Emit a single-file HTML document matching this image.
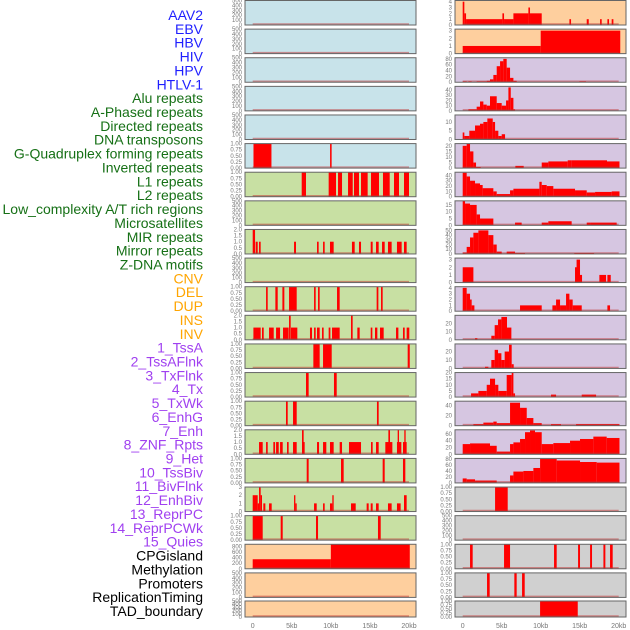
<!DOCTYPE html>
<html><head><meta charset="utf-8"><style>
html,body{margin:0;padding:0;background:#fff;width:630px;height:630px;overflow:hidden}
svg text{font-family:"Liberation Sans",sans-serif}
</style></head><body>
<svg id="chart" width="630" height="630" xmlns="http://www.w3.org/2000/svg"></svg>
<script>
const labels=["AAV2","EBV","HBV","HIV","HPV","HTLV-1","Alu repeats","A-Phased repeats","Directed repeats","DNA transposons","G-Quadruplex forming repeats","Inverted repeats","L1 repeats","L2 repeats","Low_complexity A/T rich regions","Microsatellites","MIR repeats","Mirror repeats","Z-DNA motifs","CNV","DEL","DUP","INS","INV","1_TssA","2_TssAFlnk","3_TxFlnk","4_Tx","5_TxWk","6_EnhG","7_Enh","8_ZNF_Rpts","9_Het","10_TssBiv","11_BivFlnk","12_EnhBiv","13_ReprPC","14_ReprPCWk","15_Quies","CPGisland","Methylation","Promoters","ReplicationTiming","TAD_boundary"];
const labelGroups=[6,13,5,15,5];
const groupColors=["#1f1fff","#167016","#ffa500","#a040f0","#000000"];
const xTicks=[0,5,10,15,20];
const xTickLabels=["0","5kb","10kb","15kb","20kb"];
const T01=[0,0.25,0.5,0.75,1];
const T500=[0,100,200,300,400,500];
const T02=[0,0.5,1,1.5,2];
// left column panels: [bgKey, ymax, ticks, segments [startKb,endKb,value]]
const leftPanels=[
["b",500,T500,[]],["b",500,T500,[]],["b",500,T500,[]],["b",500,T500,[]],["b",500,T500,[]],
["b",1,T01,[[0.1,2.4,1],[9.9,10.1,1]]],
["g",1,T01,[[6.27,6.82,1],[9.72,10.66,1],[10.92,11.43,1],[12.2,12.8,1],[12.96,13.6,1],[13.86,14.71,1],[15.14,16.16,1],[16.67,17.53,1],[18.08,18.72,1],[19.36,20,1]]],
["g",500,T500,[]],
["g",2,T02,[[0,0.3,2],[0.38,0.64,1],[0.81,1.02,1],[5.29,5.54,1],[8.23,8.44,1],[9,9.21,1],[9.89,10.36,1],[12.7,13.05,1],[13.6,13.86,1],[15.1,15.35,1],[15.78,16.12,1],[16.55,16.89,1],[17.31,17.78,1],[18.46,19.06,1],[19.36,19.7,1]]],
["g",500,T500,[]],
["g",1,T01,[[1.71,1.92,1],[2.9,3.2,1],[3.8,4.05,1],[4.65,5.63,1],[7.85,8.06,1],[8.36,8.57,1],[10.79,11.13,1],[15.86,16.08,1],[16.42,16.63,1]]],
["g",2,T02,[[0.09,1.02,1],[1.19,1.41,1],[2.09,2.69,1],[2.99,3.5,1],[3.88,4.6,1],[4.65,4.86,2],[4.9,5.71,1],[7.33,7.59,1],[7.85,8.06,1],[8.23,8.57,1],[8.87,9.08,1],[9.72,9.94,1],[10.15,11.13,1],[12.58,12.79,2],[13.39,13.69,1],[15.1,15.31,1],[15.65,15.95,1],[16.29,16.76,1],[18.34,18.64,1],[19.23,19.45,1],[19.7,20.04,1]]],
["g",1,T01,[[7.76,8.57,1],[9,10.11,1],[19.83,20.1,1]]],
["g",1,T01,[[6.82,7.16,1],[10.4,10.75,1]]],
["g",1,T01,[[4.26,4.48,1],[5.16,5.63,1],[15.9,16.12,1]]],
["g",2,T02,[[0.81,1.28,1],[1.71,1.92,1],[2.64,2.86,1],[2.99,3.33,1],[3.5,3.84,1],[4.39,4.6,1],[5.16,5.63,1],[6.31,6.65,1],[6.31,6.52,2],[8.23,8.49,1],[9,9.42,1],[9.89,10.36,1],[11.13,11.43,1],[12.32,13.86,1],[15.14,15.35,1],[15.78,16.12,1],[16.97,17.87,1],[17.36,17.57,2],[18.46,19.02,1],[18.55,18.72,2],[19.23,19.7,1],[19.4,19.57,2]]],
["g",1,T01,[[6.91,7.16,1],[11.3,11.64,1],[16.63,16.89,1],[19.23,19.53,1]]],
["g",3,[0,1,2,3],[[0,0.64,2],[0.64,0.81,1],[0.81,1.02,3],[1.02,1.19,2],[1.36,1.62,1],[2.09,2.43,1],[5.29,5.46,2],[5.46,5.63,1],[7.85,8.19,1],[9,9.21,1],[9.89,10.19,1],[10.19,10.36,2],[12.58,13.18,1],[14.58,14.84,1],[15.1,15.35,1],[15.78,16.12,1],[17.31,17.78,1],[18.46,18.93,1],[19.36,19.7,2]]],
["g",1,T01,[[0,1.28,1],[3.58,3.84,1],[8.1,8.36,1],[16.03,16.38,1]]],
["o",886,[0,200,400,600,800],[[0,10,345],[10,20.1,886]]],
["o",500,T500,[]],
["o",500,T500,[]]
];
const rightPanels=[
["o",4.2,[0,1,2,3,4],[[0,0.21,4],[0.21,0.43,2],[0.43,5.09,1],[5.09,5.3,2],[5.3,6.5,1],[6.5,8.42,2],[8.42,8.63,3],[8.63,10.13,2],[13.68,13.89,1],[15.9,16.16,1],[17.61,17.82,1],[18.55,18.76,1],[19.1,19.32,1]]],
["o",3.2,[0,1,2,3],[[0,10,1],[10,20.2,3]]],
["p",84,[0,20,40,60,80],[[0,0.51,3],[0.73,1.15,3],[1.79,3.08,3],[3.08,3.5,5],[3.5,3.93,10],[3.93,4.36,25],[4.36,4.79,55],[4.79,5.21,72],[5.21,5.64,80],[5.64,6.07,50],[6.07,6.5,15],[6.5,6.92,5],[14.96,15.81,3]]],
["p",47,[0,10,20,30,40],[[0.73,1.79,3],[1.79,2.22,8],[2.22,2.65,18],[2.65,3.08,12],[3.08,3.5,10],[3.5,4.36,28],[4.36,5,15],[5,5.56,10],[5.56,5.86,20],[5.86,6.16,45],[6.16,6.5,25],[6.5,6.71,3]]],
["p",14,[0,5,10],[[0,0.21,4],[0.21,0.85,2],[0.85,1.58,5],[1.58,2.22,8],[2.22,2.65,9],[2.65,3.16,10],[3.16,3.85,12],[3.85,4.15,10],[4.15,4.57,5],[4.57,5,2],[5,5.43,3]]],
["p",22,[0,5,10,15,20],[[0,0.51,20],[0.51,0.94,22],[0.94,1.37,15],[1.37,1.71,5],[1.71,2.31,1],[6.75,7.82,2],[10.13,10.98,5],[10.98,13.46,6],[13.46,13.97,7],[13.97,18.5,7],[18.5,20.1,6]]],
["p",46,[0,10,20,30,40],[[0,0.51,45],[0.51,0.94,38],[0.94,1.58,30],[1.58,2.22,25],[2.22,2.56,22],[2.56,3.93,16],[3.93,4.36,10],[4.36,6.07,5],[6.07,6.5,12],[6.5,9.83,15],[9.83,10.13,28],[10.13,10.77,22],[10.77,11.62,20],[11.62,14.4,15],[14.4,15.9,12],[15.9,16.97,8],[16.97,19.1,9],[19.1,20.1,10]]],
["p",18,[0,5,10,15],[[0,0.3,18],[0.3,0.94,16],[0.94,1.79,15],[1.79,2.22,8],[2.22,3.93,5],[6.71,7.56,2],[10.13,10.98,2],[10.98,13.97,3],[15.9,16.33,2],[16.33,19.74,2]]],
["p",52,[0,10,20,30,40,50],[[0,0.51,3],[0.51,0.94,15],[0.94,1.37,35],[1.37,2.01,45],[2.01,3.29,50],[3.29,3.93,40],[3.93,4.36,20],[4.36,5,5],[5.3,5.64,1],[5.64,6.71,5],[6.71,7.99,2],[7.99,9.92,1],[11.2,12.05,1],[13.46,14.3,1],[14.3,16.84,2],[18.8,19.66,1]]],
["p",3.2,[0,1,2,3],[[0,1.37,2],[14.4,14.83,2],[14.6,15.04,3],[15.04,15.3,1],[17.52,18.38,1],[18.55,18.98,1]]],
["p",4.2,[0,1,2,3,4],[[0,0.51,4],[0.51,0.94,3],[0.94,1.15,2],[1.15,1.5,1],[7.35,10.13,1],[11.5,11.97,1],[11.97,12.48,2],[12.48,13.25,1],[13.25,13.68,3],[13.68,14.1,2],[14.1,15.26,1],[18.55,18.89,1]]],
["p",30,[0,10,20],[[1.58,1.88,2],[3.67,4.1,5],[4.1,4.53,18],[4.53,4.96,25],[4.96,5.68,28],[5.68,6.24,15]]],
["p",29,[0,10,20],[[2.86,3.29,2],[3.67,4.1,10],[4.1,4.53,22],[4.53,4.96,18],[4.96,5.38,10],[5.38,5.94,20],[5.94,6.28,28],[6.28,6.54,5]]],
["p",20,[0,5,10,15,20],[[1.07,2.01,3],[2.01,3.08,5],[3.08,3.5,10],[3.5,4.15,15],[4.15,4.57,10],[4.57,5.64,5],[5.64,6.28,18],[6.28,6.5,20],[6.5,6.71,3],[11.32,11.97,2],[15.26,17.1,2]]],
["p",48,[0,20,40],[[1.37,2.65,3],[2.65,3.93,6],[3.93,4.36,8],[4.36,6.07,5],[6.07,7.35,45],[7.35,8.21,35],[8.21,9.06,15],[9.06,10.13,5],[11.32,12.6,3],[14.53,20.1,3]]],
["p",72,[0,20,40,60],[[0,0.94,30],[0.94,3.5,32],[3.5,4.36,25],[4.36,6.07,8],[6.07,6.5,30],[6.5,7.35,35],[7.35,7.99,45],[7.99,8.63,65],[8.63,9.27,70],[9.27,10.13,65],[10.13,11.62,30],[11.62,13.76,33],[13.76,15.04,40],[15.04,16.75,45],[16.75,18.46,52],[18.46,20.1,48]]],
["p",82,[0,20,40,60,80],[[0,0.51,15],[0.51,1.58,12],[1.58,4.36,8],[6.07,6.5,25],[6.5,7.78,38],[7.78,9.06,40],[9.06,9.92,50],[9.92,12.05,80],[12.05,15.04,75],[15.04,17.18,70],[17.18,20.1,68]]],
["y",1,T01,[[4.15,5.77,1]]],
["y",500,T500,[]],
["y",1,T01,[[0.94,1.28,1],[5.3,6.07,1],[11.71,12.05,1],[14.79,15.04,1],[16.33,16.58,1],[18.04,18.29,1],[18.89,19.23,1]]],
["y",1,T01,[[3.12,3.46,1],[6.62,6.92,1],[7.61,7.95,1]]],
["y",1,T01,[[9.92,14.75,1]]]
];
const bgColors={b:"#c8e3ea",g:"#c8e0a3",o:"#fecf9e",p:"#d6c6e1",y:"#d0d0d0"};
const NS="http://www.w3.org/2000/svg";
const svg=document.getElementById('chart');
function mk(tag,attrs,parent){const e=document.createElementNS(NS,tag);for(const k in attrs)e.setAttribute(k,attrs[k]);(parent||svg).appendChild(e);return e;}
function fmt(v,ticks){return ticks===T01?v.toFixed(2):(ticks===T02?v.toFixed(1):String(v));}
// labels
let gi=0,cnt=0;
labels.forEach((t,i)=>{
  while(cnt>=labelGroups[gi]){cnt-=labelGroups[gi];gi++;}
  const e=mk('text',{x:203,y:20+i*13.86,'text-anchor':'end','font-size':'14',fill:groupColors[gi]});
  e.textContent=t;
  
  
  cnt++;
});
function rowGeom(i){return i<21?{top:i*28.62+0.5,h:24.5}:{top:601,h:16};}
function drawCol(panels,x0,x1,zeroX,kbPx,name){
  const xs=kb=>zeroX+kb*kbPx;
  panels.forEach((p,i)=>{
    const g=mk('g',{});
    
    
    const {top,h}=rowGeom(i);
    const ys=v=>top+h-(v/p[1])*h;
    mk('rect',{x:x0,y:top,width:x1-x0,height:h,fill:bgColors[p[0]]},g);
    p[3].forEach(s=>{
      const r=mk('rect',{x:xs(s[0]),y:ys(s[2]),width:Math.max(0.8,xs(s[1])-xs(s[0])),height:top+h-ys(s[2]),fill:'#ff0000'},g);
      
      
    });
    mk('line',{x1:xs(0),x2:xs(20),y1:top+h-1,y2:top+h-1,stroke:'#c03030','stroke-opacity':0.5,'stroke-width':1.5},g);
    mk('rect',{x:x0,y:top,width:x1-x0,height:h,fill:'none',stroke:'#666','stroke-width':1},g);
    p[2].forEach(v=>{
      const t=mk('text',{x:x0-3,y:ys(v)+2,'text-anchor':'end','font-size':'6',fill:'#777'},g);
      t.textContent=fmt(v,p[2]);
      
      
    });
  });
  xTicks.forEach((v,k)=>{
    const t=mk('text',{x:xs(v),y:628,'text-anchor':'middle','font-size':'7',fill:'#777'});
    t.textContent=xTickLabels[k];
    
    
  });
}
drawCol(leftPanels,245,416,252.7,7.815,'left');
drawCol(rightPanels,455,626,462.7,7.8,'right');
</script>
</body></html>
